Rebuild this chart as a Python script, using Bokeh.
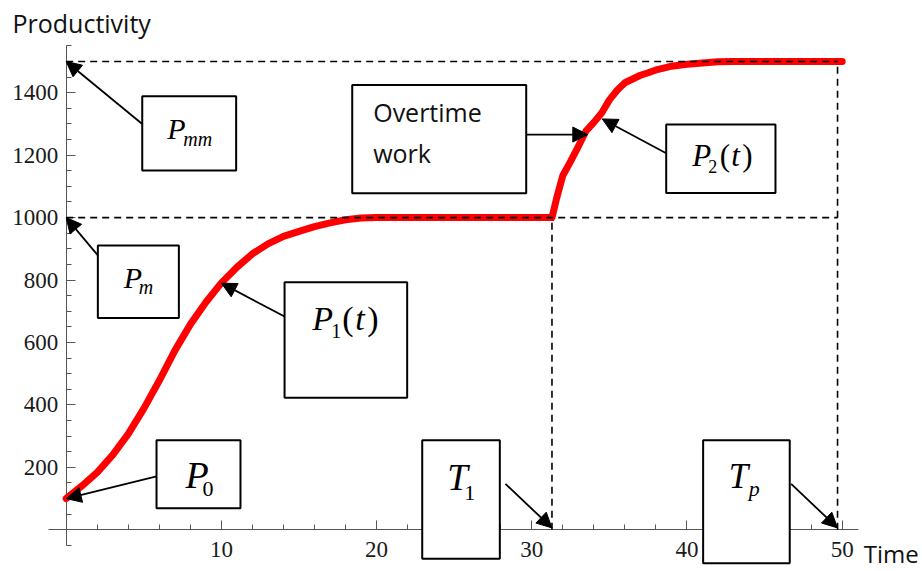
from bokeh.plotting import figure
from bokeh.models import ColumnDataSource, FixedTicker, Arrow, NormalHead, Range1d
from bokeh.core.properties import value, field
from bokeh.embed import file_html
from bokeh.resources import INLINE

# ---- data -------------------------------------------------------------
# Phase 1: normal work, productivity grows from P0 toward Pm
time_phase1 = [0, 1, 2, 3, 4, 5, 6, 7, 8, 9, 10, 11, 12, 13, 14, 15, 16, 17,
               18, 19, 20, 22, 24, 26, 28, 30, 31.3]
prod_phase1 = [100, 140, 184, 240, 307, 388, 478, 574, 658, 729, 791, 841, 884,
               916, 940, 956, 971, 983, 993, 999, 1000, 1000, 1000, 1000, 1000,
               1000, 1000]

# Phase 2: overtime work, productivity grows from Pm toward Pmm
time_phase2 = [31.6, 32.0, 32.5, 33.0, 33.5, 34.0, 34.5, 35.0, 35.5, 36.0, 36.5,
               37.0, 37.5, 38.0, 38.5, 39.0, 40.0, 41.0, 42.0, 43.0, 45.0, 47.0,
               50.0]
prod_phase2 = [1062, 1135, 1180, 1228, 1278, 1305, 1335, 1377, 1408, 1432, 1444,
               1456, 1464, 1473, 1479, 1485, 1491, 1495, 1499, 1500, 1500, 1500,
               1500]

P0 = 100      # initial productivity
PM = 1000     # maximum productivity, normal work
PMM = 1500    # maximum productivity, overtime work
T1 = 31.3     # start of overtime
TP = 49.7     # end of the project

x_major = [10, 20, 30, 40, 50]
y_major = [200, 400, 600, 800, 1000, 1200, 1400]

# ---- figure -----------------------------------------------------------
p = figure(width=922, height=571, title=None,
           x_range=Range1d(-4.233, 55.174), y_range=Range1d(-133.6, 1695.4),
           output_backend="svg", toolbar_location=None, min_border=0)
p.outline_line_color = None
p.background_fill_color = "white"
p.border_fill_color = "white"
p.xgrid.visible = False
p.ygrid.visible = False

# axes crossing at the origin
axis_color = "#555555"
for ax in (p.xaxis, p.yaxis):
    ax.fixed_location = 0
    ax.axis_line_color = axis_color
    ax.axis_line_width = 1
    ax.major_tick_line_color = axis_color
    ax.minor_tick_line_color = axis_color
    ax.major_tick_in = 9
    ax.major_tick_out = 0
    ax.minor_tick_in = 5
    ax.minor_tick_out = 0
    ax.major_label_text_font = "Liberation Serif"
    ax.major_label_text_font_size = "23px"
    ax.major_label_text_color = "#1a1a1a"
p.yaxis.major_label_standoff = 8
p.xaxis.major_label_standoff = 12

p.xaxis.ticker = FixedTicker(ticks=x_major,
                             minor_ticks=[t for t in range(2, 51, 2) if t % 10])
p.yaxis.ticker = FixedTicker(ticks=y_major,
                             minor_ticks=[v for v in range(-50, 1551, 50) if v % 200])
p.xaxis.bounds = (-1.12, 51.07)
p.yaxis.bounds = (-50, 1552)

# ---- productivity curve -------------------------------------------------
curve = ColumnDataSource(dict(t=time_phase1 + time_phase2,
                              prod=prod_phase1 + prod_phase2))
r_curve = p.line("t", "prod", source=curve, line_color="#ff0000", line_width=7,
                 line_cap="round", line_join="round")
r_curve.level = "annotation"

# reference levels and times
r_dash = p.segment(x0=[0, 0, T1, TP], y0=[PM, PMM, 0, 0],
                   x1=[TP, TP, T1, TP], y1=[PM, PMM, PM, PMM],
                   line_color="black", line_width=1.6, line_dash="7 5")
r_dash.level = "annotation"

# ---- callout boxes --------------------------------------------------------
boxes = dict(
    left=[4.90, 2.04, 5.82, 14.07, 18.43, 38.66, 22.94, 41.04],
    right=[10.95, 7.26, 11.23, 21.97, 29.64, 45.70, 27.94, 46.62],
    bottom=[1151, 678, 69, 423, 1078, 1079, -93, -107],
    top=[1389, 911, 287, 793, 1425, 1298, 287, 287],
)
r_box = p.quad(source=ColumnDataSource(boxes), left="left", right="right",
               bottom="bottom", top="top", fill_color="white",
               line_color="black", line_width=2)
r_box.level = "annotation"

# arrows: (start x, start y) -> (tip x, tip y)
arrows = [
    (4.90, 1300, 0, PMM),
    (2.04, 879, 0, PM),
    (5.82, 171, 0, P0),
    (14.07, 683, 10, 790),
    (29.64, 1266, 33.61, 1266),
    (38.66, 1206, 34.54, 1316),
    (28.30, 147, T1, 6),
    (46.71, 147, TP, 6),
]
for xs, ys, xe, ye in arrows:
    p.add_layout(Arrow(x_start=xs, y_start=ys, x_end=xe, y_end=ye,
                       line_color="black", line_width=1.8,
                       end=NormalHead(size=15, fill_color="black",
                                      line_color="black", line_width=1)))

# ---- math labels: anchor + pieces (text, dx px, dy px, size px, style) ---
math_labels = [
    (6.51, 1252, [("P", 0, 0, 30, "italic"), ("mm", 16, 7, 20, "italic")]),
    (3.71, 775, [("P", 0, 0, 30, "italic"), ("m", 15, 6, 20, "italic")]),
    (7.69, 131, [("P", 0, 0, 38, "italic"), ("0", 17, 8, 22, "normal")]),
    (15.85, 638, [("P", 0, 0, 34, "italic"), ("1", 19, 8, 20, "normal"),
                  ("(", 30, 0, 34, "normal"), ("t", 43, 0, 34, "italic"),
                  (")", 55, 0, 34, "normal")]),
    (40.34, 1164, [("P", 0, 0, 31, "italic"), ("2", 16, 7, 18, "normal"),
                   ("(", 27.5, 0, 31, "normal"), ("t", 39, 0, 31, "italic"),
                   (")", 50, 0, 31, "normal")]),
    (24.55, 126, [("T", 0, 0, 37, "italic"), ("1", 17, 10, 22, "normal")]),
    (42.69, 131, [("T", 0, 0, 35, "italic"), ("p", 20, 8, 22, "italic")]),
]

# vertical correction of the text box baseline, as a fraction of font size
SERIF_LIFT = 0.36
SANS_LIFT = 0.42

for style in ("italic", "normal"):
    cols = dict(x=[], y=[], text=[], dx=[], dy=[], size=[])
    for ax_, ay_, pieces in math_labels:
        for txt, dx, dy, size, st in pieces:
            if st != style:
                continue
            cols["x"].append(ax_)
            cols["y"].append(ay_)
            cols["text"].append(txt)
            cols["dx"].append(dx)
            cols["dy"].append(dy - SERIF_LIFT * size)
            cols["size"].append(f"{size}px")
    r = p.text(x="x", y="y", text="text", x_offset="dx", y_offset="dy",
               source=ColumnDataSource(cols),
               text_font=value("Liberation Serif"), text_font_style=style,
               text_font_size=field("size"), text_color="black",
               text_align="left", text_baseline="alphabetic")
    r.level = "overlay"

# ---- plain text: axis names and box caption --------------------------------
plain_sizes = [25, 24, 25, 25]
plain = dict(x=[-3.46, 51.39, 19.78, 19.78],
             y=[1590, -107, 1306, 1174],
             text=["Productivity", "Time", "Overtime", "work"],
             size=[f"{s}px" for s in plain_sizes],
             dy=[-SANS_LIFT * s for s in plain_sizes])
r_plain = p.text(x="x", y="y", text="text", y_offset="dy",
                 source=ColumnDataSource(plain),
                 text_font=value("Open Sans"), text_font_size=field("size"),
                 text_color="#111111", text_align="left",
                 text_baseline="alphabetic")
r_plain.level = "overlay"

open("out.html", "w").write(file_html(p, INLINE))
